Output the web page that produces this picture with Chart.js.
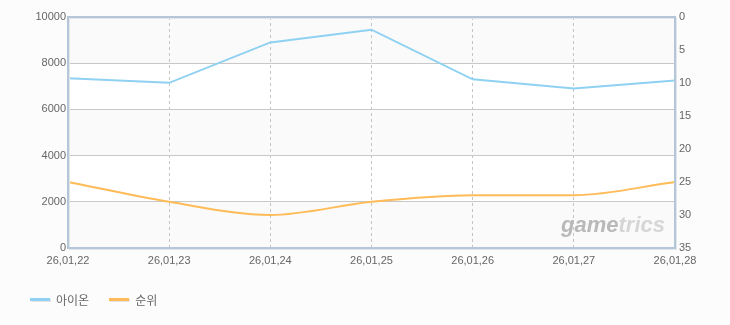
<!DOCTYPE html>
<html>
<head>
<meta charset="utf-8">
<script src="https://cdn.jsdelivr.net/npm/chart.js@4/dist/chart.umd.min.js"></script>
<style>
  body { margin: 0; background: #fcfcfc; }
  #wrap { position: relative; width: 730px; height: 325px; }
  #legend { position: absolute; left: 30px; top: 291px; font: 12px "Noto Sans CJK KR", sans-serif; color: #666; display: flex; align-items: center; }
  .item { display: flex; align-items: center; margin-right: 20px; }
  .swatch { width: 20px; height: 3px; margin-right: 6px; box-shadow: 1px 1px 0 #e4e4e4; }
</style>
</head>
<body>
<div id="wrap">
  <canvas id="chart" width="730" height="325"></canvas>
  <div id="legend"></div>
</div>
<script>
// data
const dates = ['26,01,22', '26,01,23', '26,01,24', '26,01,25', '26,01,26', '26,01,27', '26,01,28'];
const aionValues = [7350, 7150, 8900, 9450, 7300, 6900, 7250];
const rankValues = [25, 28, 30, 28, 27, 27, 25];
const seriesNames = ['아이온', '순위'];
const seriesColors = ['#8fd1f2', '#ffbb57'];

const tickFont = { family: 'Liberation Sans, Arial, sans-serif', size: 11 };

// alternating bands + frame + watermark
const plotDecor = {
  id: 'plotDecor',
  beforeDraw(chart) {
    const { ctx, chartArea: a, scales } = chart;
    const y = scales.y;
    ctx.save();
    for (let v = 0; v < 10000; v += 2000) {
      const top = y.getPixelForValue(v + 2000);
      const bot = y.getPixelForValue(v);
      ctx.fillStyle = (v / 2000) % 2 === 0 ? '#fafafa' : '#ffffff';
      ctx.fillRect(a.left, top, a.right - a.left, bot - top);
    }
    ctx.restore();
  },
  beforeDatasetsDraw(chart) {
    const { ctx, chartArea: a } = chart;
    ctx.save();
    ctx.font = 'italic bold 22px Liberation Sans, Arial, sans-serif';
    ctx.textBaseline = 'alphabetic';
    const w1 = ctx.measureText('game').width;
    const w2 = ctx.measureText('trics').width;
    const x0 = a.right - 10 - w1 - w2;
    ctx.fillStyle = '#b9b9b9';
    ctx.fillText('game', x0, 232);
    ctx.fillStyle = '#d6d6d6';
    ctx.fillText('trics', x0 + w1, 232);
    ctx.restore();
  },
  afterDraw(chart) {
    const { ctx, chartArea: a } = chart;
    ctx.save();
    ctx.lineWidth = 1;
    ctx.strokeStyle = '#e3e7ec';
    ctx.strokeRect(a.left + 1.5, a.top + 1.5, a.right - a.left, a.bottom - a.top);
    ctx.lineWidth = 2;
    ctx.strokeStyle = '#b4c6d8';
    ctx.strokeRect(a.left, a.top, a.right - a.left, a.bottom - a.top);
    ctx.restore();
  }
};

new Chart(document.getElementById('chart'), {
  type: 'line',
  data: {
    labels: dates,
    datasets: [
      {
        label: seriesNames[0],
        data: aionValues,
        borderColor: seriesColors[0],
        backgroundColor: seriesColors[0],
        borderWidth: 2,
        pointRadius: 0,
        tension: 0,
        yAxisID: 'y'
      },
      {
        label: seriesNames[1],
        data: rankValues,
        borderColor: seriesColors[1],
        backgroundColor: seriesColors[1],
        borderWidth: 2,
        pointRadius: 0,
        cubicInterpolationMode: 'monotone',
        yAxisID: 'y2'
      }
    ]
  },
  options: {
    responsive: false,
    animation: false,
    layout: { padding: { top: 17, left: 0, right: 0, bottom: 57 } },
    plugins: { legend: { display: false }, tooltip: { enabled: false } },
    scales: {
      x: {
        offset: false,
        grid: {
          color: (c) => (c.index === 0 || c.index === dates.length - 1) ? 'rgba(0,0,0,0)' : '#c4c4c4',
          drawTicks: false,
          lineWidth: 1
        },
        border: { display: false, dash: [3, 3] },
        ticks: { color: '#666', font: tickFont, padding: 6, maxRotation: 0, autoSkip: false },
        afterFit(scale) { scale.height = 20; }
      },
      y: {
        position: 'left',
        min: 0,
        max: 10000,
        grid: { color: '#c8c8c8', drawTicks: false },
        border: { display: false },
        ticks: { stepSize: 2000, color: '#666', font: tickFont, padding: 2, callback: (v) => String(v) },
        afterFit(scale) { scale.width = 68; }
      },
      y2: {
        position: 'right',
        reverse: true,
        min: 0,
        max: 35,
        grid: { display: false, drawTicks: false },
        border: { display: false },
        ticks: { stepSize: 5, color: '#666', font: tickFont, padding: 4, callback: (v) => String(v) },
        afterFit(scale) { scale.width = 55; }
      }
    }
  },
  plugins: [plotDecor]
});

// legend
const legend = document.getElementById('legend');
seriesNames.forEach((name, i) => {
  const item = document.createElement('div');
  item.className = 'item';
  item.innerHTML = `<span class="swatch" style="background:${seriesColors[i]}"></span>${name}`;
  legend.appendChild(item);
});
</script>
</body>
</html>
